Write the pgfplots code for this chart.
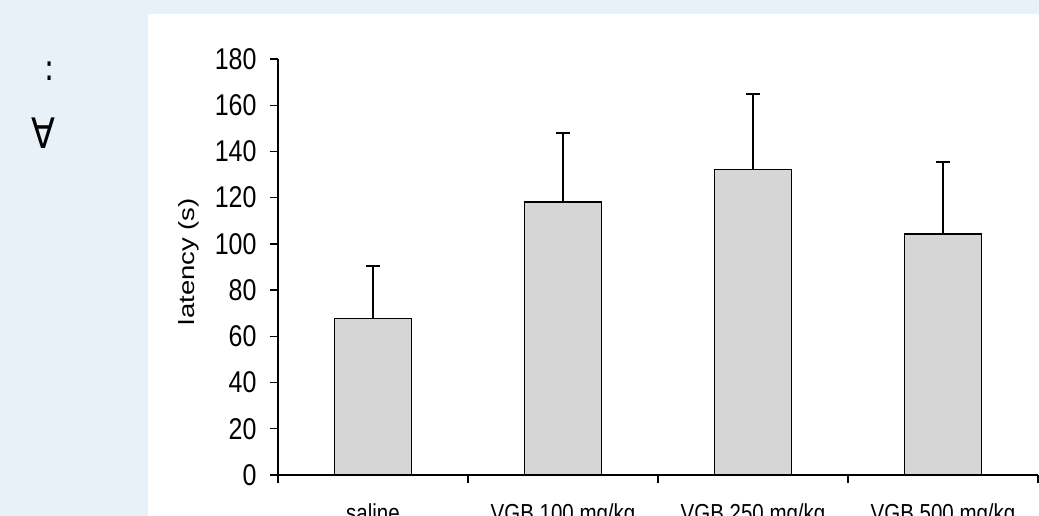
\documentclass[border=0pt]{standalone}
\usepackage{fontspec}
\setmainfont{Liberation Sans}
\newfontfamily\djv{DejaVu Sans}
\usepackage{graphicx}
\usepackage{pgfplots}
\pgfplotsset{compat=1.18}
\definecolor{bgblue}{HTML}{E8F0F8}
\definecolor{barfill}{HTML}{D6D6D6}
\begin{document}
\begin{tikzpicture}[x=1pt,y=1pt]
\useasboundingbox (0,0) rectangle (1039,516);
\clip (0,0) rectangle (1039,516);
\fill[bgblue] (0,0) rectangle (1039,516);
\fill[white] (148,0) rectangle (1039,502);
\node[font=\djv\fontsize{30}{36}\selectfont, inner sep=0pt] at (50,445) {\scalebox{1}[1.2]{:}};
\node[font=\djv\fontsize{35}{38}\selectfont, inner sep=0pt] at (43,383) {\scalebox{1}[1.2]{∀}};
\begin{axis}[
  at={(278pt,41pt)}, anchor=south west, scale only axis,
  width=760pt, height=416pt,
  xmin=0.5, xmax=4.5, ymin=0, ymax=180,
  axis x line*=bottom, axis y line*=left,
  axis line style={line width=1.4pt},
  every tick/.style={line width=1.4pt, black},
  tick align=outside, major tick length=8pt,
  ytick={0,20,...,180},
  xtick={0.5,1.5,2.5,3.5,4.5}, xticklabels={},
  extra x ticks={1,2,3,4},
  extra x tick labels={\scalebox{1}[1.2]{saline}, \scalebox{1}[1.2]{VGB 100 mg/kg}, \scalebox{1}[1.2]{VGB 250 mg/kg}, \scalebox{1}[1.2]{VGB 500 mg/kg}},
  extra x tick style={major tick length=0pt,
    tick label style={font=\fontsize{20.5}{24}\selectfont, anchor=north, yshift=-25pt}},
  yticklabel={\scalebox{1}[1.2]{\pgfmathprintnumber{\tick}}},
  /pgf/number format/assume math mode=true,
  yticklabel style={font=\fontsize{25}{30}\selectfont, xshift=-10pt},
  every axis y label/.style={at={(axis description cs:-0.118,0.513)}, rotate=90, anchor=center,
    font=\fontsize{22}{26}\selectfont},
  ylabel={\scalebox{1.25}[1]{latency (s)}},
  clip=false,
]
\addplot[ybar, bar width=77pt, fill=barfill, draw=black, line width=1.3pt,
  error bars/.cd, y dir=plus, y explicit,
  error bar style={line width=1.3pt},
  error mark options={rotate=90, mark size=6.7pt, line width=2pt}]
  table[x=x, y=y, y error=e] {
x y e
1 67.8 22.8
2 118.1 30.0
3 132.1 32.8
4 104.3 31.3
};
\end{axis}
\end{tikzpicture}
\end{document}
